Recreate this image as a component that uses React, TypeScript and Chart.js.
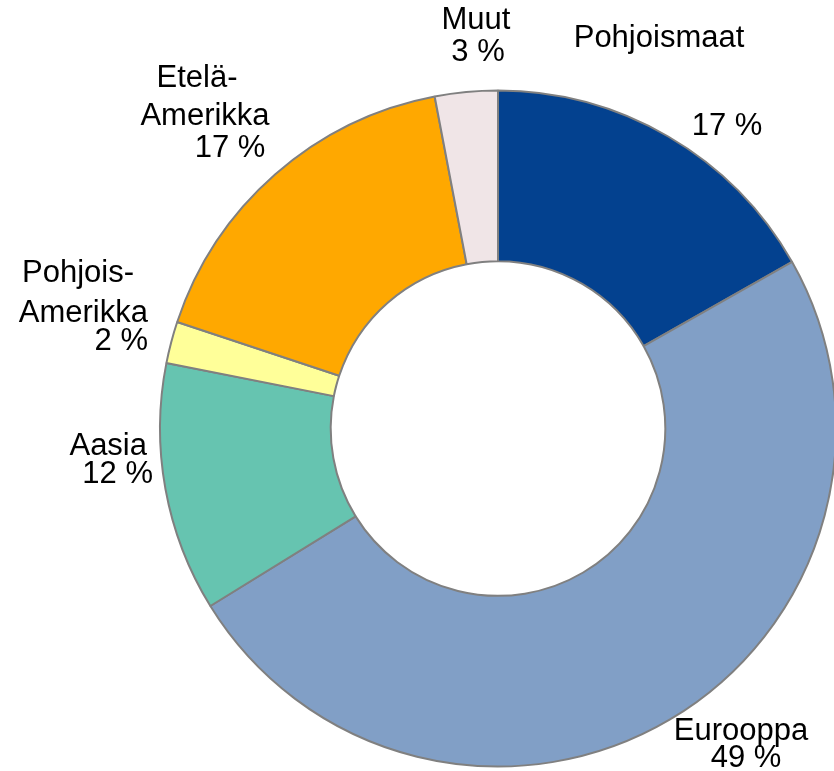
import React, { useEffect, useRef } from "react";
import { Chart, registerables } from "chart.js";

Chart.register(...registerables);

const categories = ["Pohjoismaat", "Eurooppa", "Aasia", "Pohjois-Amerikka", "Etelä-Amerikka", "Muut"];
const shares = [16.8, 49.4, 11.9, 2.0, 16.9, 3.0];
const colors = ["#03418F", "#819FC6", "#66C4B0", "#FFFF99", "#FFA800", "#F0E5E7"];

// label text lines: name lines then value line (value inserted from shares)
const labelNames: string[][] = [["Pohjoismaat"], ["Eurooppa"], ["Aasia"], ["Pohjois-", "Amerikka"], ["Etelä-", "Amerikka"], ["Muut"]];
// per-line layout [x, y, align] for each label (name lines..., value line)
const labelLayout: [number, number, CanvasTextAlign][][] = [
  [[659, 38, "center"], [727, 126, "center"]],
  [[741, 731, "center"], [746, 758, "center"]],
  [[147, 446, "right"], [153, 474, "right"]],
  [[134, 273, "right"], [148, 313, "right"], [148, 341, "right"]],
  [[197, 78, "center"], [205, 116, "center"], [230, 148, "center"]],
  [[476, 20, "center"], [478, 52, "center"]],
];

const labelPlugin = {
  id: "outerLabels",
  afterDraw(chart: any) {
    const ctx = chart.ctx;
    ctx.save();
    ctx.fillStyle = "#000000";
    ctx.font = "31px 'Liberation Sans', Arial, sans-serif";
    ctx.textBaseline = "middle";
    categories.forEach((_, i) => {
      const lines = [...labelNames[i], `${Math.round(shares[i])} %`];
      lines.forEach((t, j) => {
        const [x, y, align] = labelLayout[i][j];
        ctx.textAlign = align;
        ctx.fillText(t, x, y);
      });
    });
    ctx.restore();
  },
};

export default function App() {
  const ref = useRef<HTMLCanvasElement>(null);
  useEffect(() => {
    if (!ref.current) return;
    const chart = new Chart(ref.current, {
      type: "doughnut",
      data: {
        labels: categories,
        datasets: [
          {
            data: shares,
            backgroundColor: colors,
            borderColor: "#808080",
            borderWidth: 2,
            hoverOffset: 0,
          },
        ],
      },
      options: {
        responsive: false,
        animation: false,
        radius: 338,
        cutout: "49.5%",
        layout: { padding: { left: 162, right: 0, top: 86, bottom: 0 } },
        plugins: { legend: { display: false }, tooltip: { enabled: false } },
      } as any,
      plugins: [labelPlugin],
    });
    return () => chart.destroy();
  }, []);
  return (
    <canvas
      ref={ref}
      width={834}
      height={771}
      style={{ position: "fixed", left: 0, top: 0, width: 834, height: 771 }}
    />
  );
}
